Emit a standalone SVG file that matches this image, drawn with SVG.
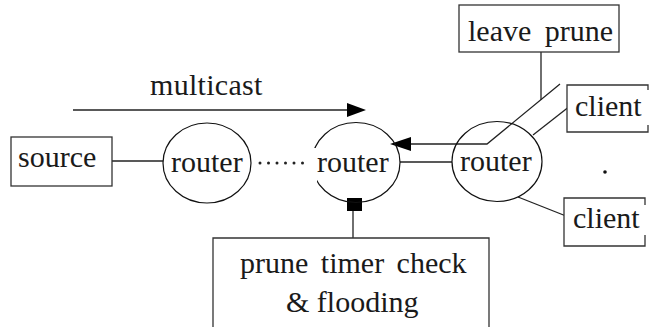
<svg xmlns="http://www.w3.org/2000/svg" width="659" height="327" viewBox="0 0 659 327">
  <style>
    .box { fill: #fff; stroke: #333; stroke-width: 1.3; }
    .node { fill: none; stroke: #111; stroke-width: 1.2; }
    .edge { fill: none; stroke: #222; stroke-width: 1.3; }
    .head { fill: #000; stroke: none; }
    text { font-family: "Liberation Serif", serif; font-size: 30px; fill: #1a1a1a; }
  </style>
  <rect width="659" height="327" fill="#fff"/>

  <!-- connectors -->
  <g id="connectors">
    <!-- multicast direction arrow -->
    <line class="edge" x1="73" y1="110" x2="349" y2="110"/>
    <polygon class="head" points="366,110 347,103 347,117"/>
    <!-- source to first router -->
    <line class="edge" x1="112" y1="161" x2="163" y2="161"/>
    <!-- dotted chain between routers -->
    <g fill="#222">
      <circle cx="260" cy="163" r="1.5"/>
      <circle cx="268.5" cy="163" r="1.5"/>
      <circle cx="277" cy="163" r="1.5"/>
      <circle cx="285.5" cy="163" r="1.5"/>
      <circle cx="294" cy="163" r="1.5"/>
      <circle cx="302.5" cy="163" r="1.5"/>
    </g>
    <!-- router to router link -->
    <line class="edge" x1="400" y1="162" x2="452" y2="162"/>
    <!-- prune message back toward upstream router -->
    <polyline class="edge" points="560,84 487,144 408,144"/>
    <polygon class="head" points="390,144 411,137 411,151"/>
    <!-- leave prune callout -->
    <line class="edge" x1="541" y1="52" x2="541" y2="100"/>
    <!-- clients -->
    <line class="edge" x1="533" y1="135" x2="570" y2="106"/>
    <line class="edge" x1="518" y1="197" x2="566" y2="216"/>
    <!-- timer check attachment -->
    <line class="edge" x1="353" y1="210" x2="353" y2="238"/>
    <rect class="head" x="347" y="198" width="15" height="13"/>
  </g>

  <g id="source">
    <rect class="box" x="11" y="137" width="101" height="49"/>
    <text x="18" y="167" font-family="Liberation Serif">source</text>
  </g>

  <g id="router1">
    <ellipse class="node" cx="207" cy="163" rx="44" ry="40"/>
    <text x="171" y="172" font-family="Liberation Serif">router</text>
  </g>

  <g id="router2">
    <ellipse class="node" cx="356" cy="162.5" rx="44" ry="40"/>
    <rect x="307" y="148" width="10" height="37" fill="#fff"/>
    <text x="317" y="172" font-family="Liberation Serif">router</text>
  </g>

  <g id="router3">
    <ellipse class="node" cx="497" cy="161.5" rx="45" ry="40"/>
    <text x="460" y="171" font-family="Liberation Serif">router</text>
  </g>

  <g id="multicast-label">
    <text x="150" y="95" font-family="Liberation Serif" letter-spacing="0.3">multicast</text>
  </g>

  <g id="leave-prune">
    <rect class="box" x="459" y="5" width="160" height="47"/>
    <text x="468" y="41" font-family="Liberation Serif" word-spacing="6">leave prune</text>
  </g>

  <g id="client1">
    <path class="box" d="M648,90 V85 H567 V132 H648 V125"/>
    <text x="575" y="116" font-family="Liberation Serif">client</text>
  </g>

  <g id="client2">
    <path class="box" d="M645,205 V198 H564 V246 H645 V235"/>
    <text x="573" y="228" font-family="Liberation Serif">client</text>
  </g>

  <g id="timer-check">
    <path class="box" d="M213,330 V238 H489 V330"/>
    <text x="240" y="273" font-family="Liberation Serif" word-spacing="5">prune timer check</text>
    <text x="286" y="312" font-family="Liberation Serif">&amp; flooding</text>
  </g>

  <circle cx="605" cy="172" r="1.8" fill="#111"/>
</svg>
